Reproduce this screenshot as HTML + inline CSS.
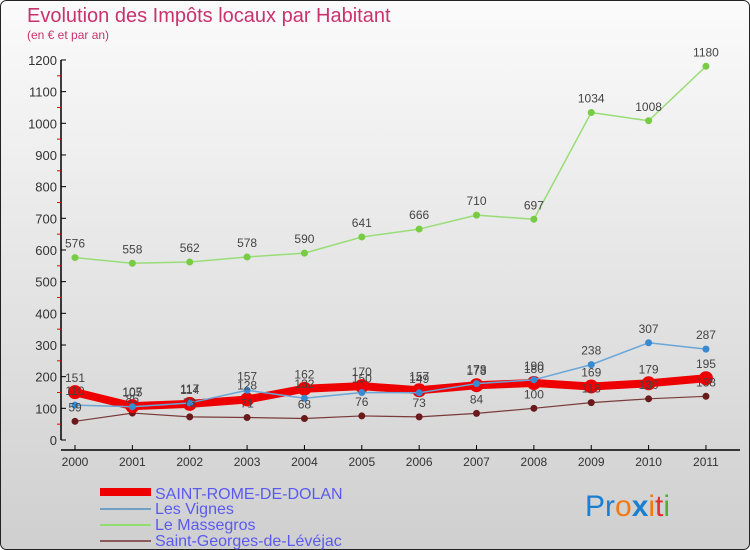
<!DOCTYPE html>
<html><head><meta charset="utf-8"><style>
body{margin:0;}
#wrap{width:750px;height:550px;position:relative;overflow:hidden;font-family:"Liberation Sans",sans-serif;}
</style></head><body>
<div id="wrap">
<svg id="chart" width="750" height="550">
<defs><linearGradient id="bg" x1="0" y1="0" x2="0" y2="1"><stop offset="0" stop-color="#fbfbfb"/><stop offset="1" stop-color="#cfcfcf"/></linearGradient></defs>
<rect x="0.5" y="0.5" width="749" height="549" rx="6" fill="url(#bg)" stroke="#222"/>
<text x="27" y="22" font-size="20" fill="#c8336e">Evolution des Impôts locaux par Habitant</text>
<text x="27" y="39" font-size="12" fill="#c8336e">(en € et par an)</text>
<g id="axes"></g><g id="series"></g><g id="labels"></g>
<g>
<line x1="100" y1="492" x2="151" y2="492" stroke="#ee0000" stroke-width="8"/>
<text x="155" y="499" font-size="16" fill="#5a5af0">SAINT-ROME-DE-DOLAN</text>
<line x1="100" y1="509" x2="151" y2="509" stroke="#6fa0c8" stroke-width="2"/>
<text x="155" y="514" font-size="16" fill="#5a5af0">Les Vignes</text>
<line x1="100" y1="525" x2="151" y2="525" stroke="#90dd70" stroke-width="2"/>
<text x="155" y="530" font-size="16" fill="#5a5af0">Le Massegros</text>
<line x1="100" y1="541" x2="151" y2="541" stroke="#8b5a5a" stroke-width="2"/>
<text x="155" y="546" font-size="16" fill="#5a5af0">Saint-Georges-de-Lévéjac</text>
</g>
<text x="585" y="516" font-size="30"><tspan fill="#1a7fd0">Pr</tspan><tspan fill="#f07a10">o</tspan><tspan fill="#1a7fd0" font-weight="bold">x</tspan><tspan fill="#f07a10">i</tspan><tspan fill="#e03030">t</tspan><tspan fill="#50b030">i</tspan></text>
</svg>
</div>
<script>
const years=["2000","2001","2002","2003","2004","2005","2006","2007","2008","2009","2010","2011"];
const yTicks=[0,100,200,300,400,500,600,700,800,900,1000,1100,1200];
const saintRome=[151,107,114,128,162,170,157,173,180,169,179,195];
const lesVignes=[110,105,117,157,132,150,149,178,190,238,307,287];
const leMassegros=[576,558,562,578,590,641,666,710,697,1034,1008,1180];
const saintGeorges=[59,85,73,71,68,76,73,84,100,118,130,138];
const NS="http://www.w3.org/2000/svg";
const xPos=i=>75+i*57.36;
const yPos=v=>440-v*0.3167;
function mk(tag,attrs,parent){const e=document.createElementNS(NS,tag);for(const k in attrs)e.setAttribute(k,attrs[k]);parent.appendChild(e);return e;}
const ax=document.getElementById('axes');
let l=mk('line',{x1:61,y1:yPos(1200),x2:61,y2:440,stroke:'#000','stroke-width':1.5},ax);


l=mk('line',{x1:61,y1:450,x2:740,y2:450,stroke:'#000','stroke-width':1.5},ax);


yTicks.forEach(v=>{
 const y=yPos(v);
 mk('line',{x1:61,y1:y,x2:66,y2:y,stroke:'#000'},ax);
 if(v<1200)mk('line',{x1:57,y1:yPos(v+50),x2:61,y2:yPos(v+50),stroke:'#e00'},ax);
 const t=mk('text',{x:57,y:y+5,'font-size':13,fill:'#333','text-anchor':'end'},ax);
 t.textContent=v;
 
 
});
years.forEach((yr,i)=>{
 const x=xPos(i);
 mk('line',{x1:x,y1:445,x2:x,y2:450,stroke:'#000'},ax);
 const t=mk('text',{x:x,y:466,'font-size':12,fill:'#333','text-anchor':'middle'},ax);
 t.textContent=yr;
 
 
});
const sg=document.getElementById('series'),lg=document.getElementById('labels');
function series(data,color,width,r,dotColor,name){
 const pts=data.map((v,i)=>xPos(i)+','+yPos(v)).join(' ');
 const p=mk('polyline',{points:pts,fill:'none',stroke:color,'stroke-width':width,'stroke-linejoin':'round'},sg);
 
 
 data.forEach((v,i)=>{
  const c=mk('circle',{cx:xPos(i),cy:yPos(v),r:r,fill:dotColor},sg);
  
  
  const t=mk('text',{x:xPos(i),y:yPos(v)-10,'font-size':12,fill:'#444','text-anchor':'middle'},lg);
  t.textContent=v;
  
  
 });
}
series(leMassegros,'#99dd77',1.5,3.5,'#77cc44','le-massegros');
series(saintGeorges,'#7a3a3a',1.2,3.5,'#6a1a1a','saint-georges');
series(saintRome,'#ee0000',8,7,'#ee0000','saint-rome');
series(lesVignes,'#6aa6d8',1.5,3.5,'#3a8ad0','les-vignes');
</script>
</body></html>
